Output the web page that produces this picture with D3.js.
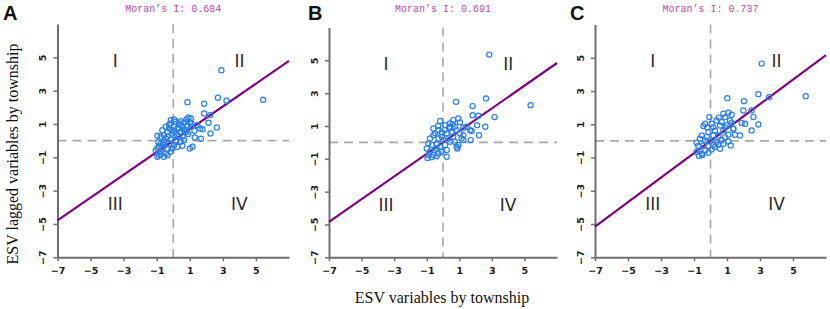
<!DOCTYPE html>
<html><head><meta charset="utf-8">
<script src="https://cdn.jsdelivr.net/npm/d3@7"></script>
<style>body{margin:0;background:#fff}svg{display:block}</style>
</head><body>
<svg id="c" width="830" height="309"></svg>
<script>
const panelLabels = ["A", "B", "C"];
const moransI = [0.684, 0.691, 0.737];
const tickValues = [-7, -5, -3, -1, 1, 3, 5];
const quadrantLabels = ["I", "II", "III", "IV"];
const xTitle = "ESV variables by township";
const yTitle = "ESV lagged variables by township";

const pointsA = [[2.91,4.23],[5.44,2.45],[0.86,2.31],[1.87,2.21],[2.70,2.57],[3.22,2.39],[1.87,1.63],[2.23,1.53],[2.13,1.07],[2.64,0.79],[2.25,0.43],[1.77,0.69],[1.67,0.11],[1.30,0.19],[1.16,-0.37],[1.0,-0.47],[1.28,0.59],
[1.06,1.33],[0.92,1.39],[0.80,1.27],[1.10,1.03],[0.86,0.93],[0.66,1.09],[0.45,1.17],[0.35,1.03],[0.56,0.83],[0.25,0.73],[0.45,0.53],[0.72,0.59],[0.05,1.27],[-0.15,1.23],[-0.15,1.03],[0.05,0.83],[-0.25,0.73],[-0.45,0.83],[-0.66,0.63],[-0.35,0.53],[-0.05,0.43],[0.25,0.33],[0.56,0.27],[0.66,0.03],[0.45,-0.07],[0.15,0.03],[-0.15,0.07],[-0.45,0.13],[-0.76,0.23],[-0.96,0.29],[-0.56,-0.07],[-0.25,-0.17],[0.05,-0.27],[0.25,-0.37],[-0.05,-0.47],[-0.35,-0.53],[-0.66,-0.41],[-0.86,-0.33],[-0.96,-0.47],[-0.76,-0.67],[-0.45,-0.77],[-0.15,-0.67],[-0.86,-0.87],[-0.96,-0.97],[-0.56,-0.97],[-0.35,-0.87],[-0.76,-0.81],[-1.06,-0.61],[-0.76,-0.17],[0.05,0.53],[0.35,0.23],[0.90,0.39],[1.06,0.83],[1.46,0.93],[1.62,0.73],
[0.15,1.13],[-0.05,0.63],[0.35,0.73],[0.66,0.63],[-0.56,0.33],[0.15,-0.07],[-0.35,0.23],[0.45,0.93],[1.0,1.1],[0.8,0.5],[-0.25,0.95],[-0.6,-0.25],[-0.9,-0.1],[0.55,-0.3]];

const pointsB = [[2.84,5.35],[5.38,2.27],[0.80,2.47],[1.82,2.21],[2.64,2.68],[1.82,1.66],[2.17,1.62],[3.17,1.54],[2.09,1.05],[2.60,0.95],[2.21,0.44],[1.70,0.14],[1.76,0.69],[1.25,0.44],[1.25,0.14],[0.94,-0.16],[0.88,-0.37],[0.23,-0.87],
[-0.18,1.30],[0.43,1.15],[0.63,1.36],[0.94,1.46],[1.04,1.22],[0.73,0.95],[0.39,0.95],[0.13,1.05],[-0.28,0.75],[-0.59,0.85],[-0.08,0.61],[0.23,0.55],[0.53,0.65],[0.84,0.75],[1.25,0.89],[1.45,0.95],[1.66,0.75],[1.04,0.55],[0.63,0.34],[0.33,0.24],[0.02,0.14],[-0.28,0.24],[-0.59,0.44],[-0.80,0.24],[-0.90,-0.06],[-0.69,-0.16],[-0.39,-0.06],[-0.18,-0.27],[0.13,-0.16],[0.43,0.04],[0.73,0.04],[-1.0,-0.37],[-0.80,-0.57],[-0.49,-0.47],[-0.28,-0.67],[-0.90,-0.77],[-0.59,-0.77],[-0.08,-0.57],[-0.39,-0.37],[0.23,-0.47],[0.84,-0.27],[1.14,0.24],[-0.08,0.34],[0.43,0.85],[-0.49,0.55],
[-0.95,-0.95],[-0.7,-0.9],[-0.4,-0.85],[0.1,0.75],[-0.3,1.0],[0.6,1.1]];

const pointsC = [[3.10,4.65],[5.77,2.69],[1.02,2.57],[2.03,2.39],[2.90,2.81],[3.55,2.63],[1.99,1.83],[2.49,1.83],[2.60,1.43],[2.90,0.99],[2.49,0.63],[2.09,1.03],[1.79,0.33],[1.48,0.37],[1.22,-0.27],[1.08,-0.03],[1.38,0.71],[1.89,1.07],
[-0.07,1.43],[0.78,1.63],[1.08,1.69],[1.28,1.57],[0.88,1.43],[1.18,1.23],[0.68,1.13],[0.37,1.23],[0.07,1.03],[-0.33,1.03],[-0.43,0.89],[0.17,0.83],[0.58,0.93],[0.98,0.93],[1.28,1.09],[1.38,0.73],[0.78,0.63],[0.27,0.63],[-0.13,0.53],[-0.53,0.33],[-0.23,0.23],[0.17,0.33],[0.48,0.33],[0.88,0.23],[1.08,0.37],[0.68,0.03],[0.37,-0.07],[-0.03,-0.03],[-0.33,0.03],[-0.64,0.13],[-0.84,-0.11],[-0.74,-0.31],[-0.43,-0.27],[-0.13,-0.31],[0.17,-0.23],[0.48,-0.23],[0.78,-0.17],[0.07,-0.51],[-0.33,-0.57],[-0.64,-0.57],[-0.84,-0.67],[-0.53,-0.77],[-0.13,-0.71],[0.27,-0.37],[0.58,-0.47],
[-0.7,-0.9],[-0.5,-0.85],[0.5,1.4],[-0.2,0.8],[0.9,0.8]];

const allPoints = [pointsA, pointsB, pointsC];

// layout (pixel frames per panel)
const frames = [
  {left:57.5, right:289, top:24, bottom:257.3, lx:3, ly:20},
  {left:329, right:557, top:27.5, bottom:257.3, lx:308, ly:20},
  {left:595, right:826, top:24.5, bottom:257.3, lx:570, ly:20}
];

const svg = d3.select("#c");
const fmt = d => (d < 0 ? "\u2212" + Math.abs(d) : String(d));

frames.forEach((f, i) => {
  const x = d3.scaleLinear().domain([-7, 7]).range([f.left, f.right]);
  const y = d3.scaleLinear().domain([-7, 7]).range([f.bottom, f.top]);
  const g = svg.append("g");

  // dashed quadrant lines
  g.append("line").attr("x1", x(-7)).attr("x2", x(7)).attr("y1", y(0)).attr("y2", y(0))
    .attr("stroke", "#a9a9a9").attr("stroke-width", 1.6).attr("stroke-dasharray", "9,6");
  g.append("line").attr("x1", x(0)).attr("x2", x(0)).attr("y1", y(7)).attr("y2", y(-7))
    .attr("stroke", "#a9a9a9").attr("stroke-width", 1.6).attr("stroke-dasharray", "9,6");

  // axes
  const xa = g.append("g").attr("transform", `translate(0,${y(-7)})`)
    .call(d3.axisBottom(x).tickValues(tickValues).tickSize(4).tickSizeOuter(0).tickFormat(fmt));
  const ya = g.append("g").attr("transform", `translate(${x(-7)},0)`)
    .call(d3.axisLeft(y).tickValues(tickValues).tickSize(4).tickSizeOuter(0).tickFormat(fmt));
  [xa, ya].forEach(a => {
    a.select(".domain").attr("stroke", "#6e6e6e").attr("stroke-width", 2);
    a.selectAll(".tick line").attr("stroke", "#6e6e6e").attr("stroke-width", 1.5);
    a.selectAll("text").attr("fill", "#1a1a1a").attr("font-family", "DejaVu Sans")
      .attr("font-size", 9.5).attr("font-weight", "bold");
  });
  xa.selectAll("text").attr("dy", "0.71em").attr("y", 10);
  ya.selectAll(".tick text").attr("x", null).attr("dy", null)
    .attr("transform", "translate(-14,0) rotate(-90)")
    .attr("text-anchor", "middle").attr("dominant-baseline", "middle");

  // regression line
  const I = moransI[i];
  g.append("line").attr("x1", x(-7)).attr("y1", y(-7 * I)).attr("x2", x(7)).attr("y2", y(7 * I))
    .attr("stroke", "#800080").attr("stroke-width", 2.2);

  // points
  g.selectAll("circle.p").data(allPoints[i]).join("circle").attr("class", "p")
    .attr("cx", d => x(d[0])).attr("cy", d => y(d[1])).attr("r", 2.6)
    .attr("fill", "none").attr("stroke", "#2a7fe6").attr("stroke-width", 1.2);

  // quadrant labels
  const qpos = [[-3.5, 4.8], [4, 4.8], [-3.5, -3.8], [4, -3.8]];
  quadrantLabels.forEach((q, k) => {
    g.append("text").attr("x", x(qpos[k][0])).attr("y", y(qpos[k][1]))
      .attr("text-anchor", "middle").attr("dominant-baseline", "central")
      .attr("font-family", "DejaVu Sans").attr("font-size", 17).attr("fill", "#2b2b2b")
      .text(q);
  });

  // Moran's I title
  g.append("text").attr("x", x(0)).attr("y", 11.5).attr("text-anchor", "middle")
    .attr("font-family", "Liberation Mono").attr("font-size", 10).attr("fill", "#c04a9c")
    .text("Moran\u2019s I: " + I.toFixed(3));

  // panel letter
  g.append("text").attr("x", f.lx).attr("y", f.ly)
    .attr("font-family", "Liberation Sans").attr("font-weight", "bold").attr("font-size", 20)
    .attr("fill", "#111").text(panelLabels[i]);
});

// axis titles
svg.append("text").attr("x", 442).attr("y", 303).attr("text-anchor", "middle")
  .attr("font-family", "Liberation Serif").attr("font-size", 16).attr("fill", "#111").text(xTitle);
svg.append("text").attr("transform", "translate(18,154) rotate(-90)").attr("text-anchor", "middle")
  .attr("font-family", "Liberation Serif").attr("font-size", 16).attr("fill", "#111").text(yTitle);
</script>
</body></html>
